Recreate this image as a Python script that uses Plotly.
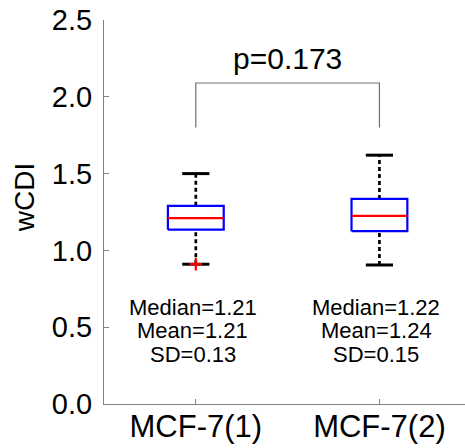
import plotly.graph_objects as go

categories = ["MCF-7(1)", "MCF-7(2)"]
positions = [1, 2]
lower_whisker = [0.91, 0.905]
q1 = [1.135, 1.125]
median = [1.21, 1.225]
q3 = [1.29, 1.335]
upper_whisker = [1.50, 1.62]
outlier_x = [1]
outlier_y = [0.91]
stats_lines = [
    ["Median=1.21", "Mean=1.21", "SD=0.13"],
    ["Median=1.22", "Mean=1.24", "SD=0.15"],
]
stats_y = [0.628, 0.477, 0.322]
p_text = "p=0.173"
bracket_low = 1.80
bracket_high = 2.09
p_y = 2.25

FONT = "Liberation Sans, Arial, Helvetica, sans-serif"
half_box = 0.152
half_cap = 0.074

fig = go.Figure()

for i, p in enumerate(positions):
    # whiskers (dotted)
    fig.add_trace(go.Scatter(x=[p, p], y=[q3[i], upper_whisker[i]], mode="lines",
                             line=dict(color="black", width=2.7, dash="4px,3px"),
                             hoverinfo="skip", showlegend=False))
    fig.add_trace(go.Scatter(x=[p, p], y=[lower_whisker[i], q1[i]], mode="lines",
                             line=dict(color="black", width=2.7, dash="4px,3px"),
                             hoverinfo="skip", showlegend=False))
    # caps
    for v in (upper_whisker[i], lower_whisker[i]):
        fig.add_trace(go.Scatter(x=[p - half_cap, p + half_cap], y=[v, v], mode="lines",
                                 line=dict(color="black", width=3),
                                 hoverinfo="skip", showlegend=False))
    # box
    fig.add_trace(go.Scatter(x=[p - half_box, p + half_box, p + half_box, p - half_box, p - half_box],
                             y=[q1[i], q1[i], q3[i], q3[i], q1[i]], mode="lines",
                             line=dict(color="#0000ff", width=2.2),
                             hoverinfo="skip", showlegend=False))
    # median
    fig.add_trace(go.Scatter(x=[p - half_box, p + half_box], y=[median[i], median[i]], mode="lines",
                             line=dict(color="#ff0000", width=2.2),
                             hoverinfo="skip", showlegend=False))

fig.add_trace(go.Scatter(x=outlier_x, y=outlier_y, mode="markers",
                         marker=dict(symbol="cross-thin", size=9, line=dict(color="#ff0000", width=2.2)),
                         hoverinfo="skip", showlegend=False))

# bracket
fig.add_trace(go.Scatter(x=[positions[0], positions[0], positions[1], positions[1]],
                         y=[bracket_low, bracket_high, bracket_high, bracket_low], mode="lines",
                         line=dict(color="#707070", width=1.2),
                         hoverinfo="skip", showlegend=False))

annotations = []
for i, p in enumerate(positions):
    for j, t in enumerate(stats_lines[i]):
        annotations.append(dict(x=p - 0.017, y=stats_y[j], xref="x", yref="y", text=t,
                                showarrow=False, font=dict(family=FONT, size=22, color="black"),
                                xanchor="center", yanchor="middle", borderpad=0))
annotations.append(dict(x=(positions[0] + positions[1]) / 2, y=p_y, xref="x", yref="y", text=p_text,
                        showarrow=False, font=dict(family=FONT, size=30, color="black"),
                        xanchor="center", yanchor="middle"))
annotations.append(dict(x=0, y=1.34, xref="paper", yref="y", text="wCDI", textangle=-90,
                        xshift=-80, showarrow=False, font=dict(family=FONT, size=28, color="black"),
                        xanchor="center", yanchor="middle"))

fig.update_layout(
    width=465, height=448,
    margin=dict(l=104, r=0, t=20, b=44),
    paper_bgcolor="white", plot_bgcolor="white",
    annotations=annotations,
    xaxis=dict(range=[0.5, 2.466], tickmode="array", tickvals=positions, ticktext=categories,
               showline=True, linecolor="#808080", linewidth=1.2, ticks="inside", ticklen=5,
               tickcolor="#808080", showgrid=False, zeroline=False, ticklabelstandoff=-5,
               tickfont=dict(family=FONT, size=31, color="black")),
    yaxis=dict(range=[0, 2.5], tickmode="array", tickvals=[0, 0.5, 1.0, 1.5, 2.0, 2.5],
               ticktext=["0.0", "0.5", "1.0", "1.5", "2.0", "2.5"],
               showline=True, linecolor="#808080", linewidth=1.2, ticks="inside", ticklen=5,
               tickcolor="#808080", showgrid=False, zeroline=False, ticklabelstandoff=5,
               tickfont=dict(family=FONT, size=29, color="black")),
)

fig.write_html("out.html")
